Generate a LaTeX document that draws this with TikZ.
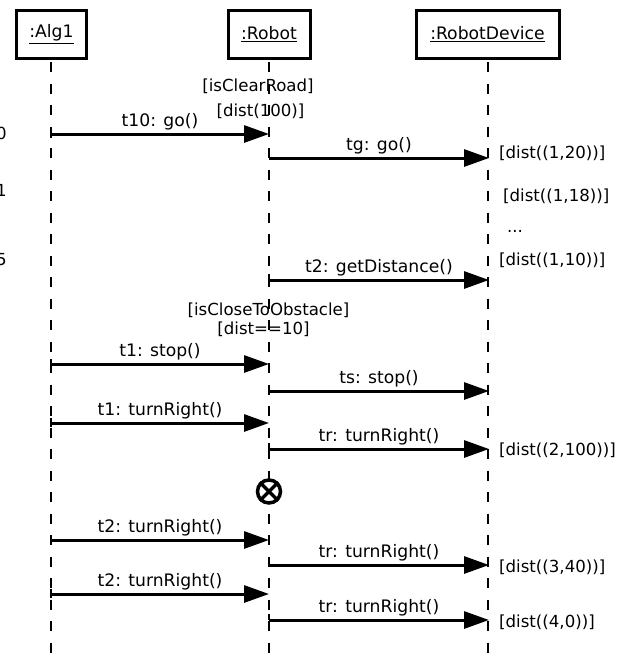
\documentclass[tikz,border=0pt]{standalone}
\usepackage{fontspec}
\setmainfont{DejaVu Sans}
\usetikzlibrary{arrows.meta}
\begin{document}
\begin{tikzpicture}[x=1pt,y=-1pt,
  head/.style={draw,line width=3pt,minimum height=48pt,inner sep=0pt,font=\fontsize{17.2}{19}\selectfont},
  life/.style={line width=1.2pt,dash pattern=on 10pt off 11.5pt},
  msg/.style={line width=3pt,-{Triangle[length=25pt,width=17pt]}},
  lbl/.style={font=\fontsize{17.2}{19}\selectfont,inner sep=0pt},
  note/.style={font=\fontsize{16.6}{18}\selectfont,inner sep=0pt},
  tick/.style={line width=1.2pt}]
\useasboundingbox (0,0) rectangle (623,662);
% heads
\node[head,minimum width=70pt] (alg) at (51.5,34) {\underline{:Alg1}};
\node[head,minimum width=82pt] (rob) at (269,34) {\underline{:Robot}};
\node[head,minimum width=143pt] (dev) at (487.5,34) {\underline{:RobotDevice}};
% lifelines
\coordinate (algT) at (51,62);  \coordinate (algB) at (51,662);
\coordinate (robT) at (269,62); \coordinate (robB) at (269,662);
\coordinate (devT) at (488,62); \coordinate (devB) at (488,662);
\draw[life] (algT) -- (algB);
\draw[life] (robT) -- (robB);
\draw[life] (devT) -- (devB);
% left clipped numbers (cut by the left edge, as in the reference)
\node[note,anchor=east] (n0) at (7,133) {0};
\node[note,anchor=east] (n1) at (7,190) {1};
\node[note,anchor=east] (n5) at (7,260) {5};
% guards
\node[note] (g1) at (258,86) {[isClearRoad]};
\node[note] (g2) at (260.5,111) {[dist(100)]};
\node[note] (g3) at (268.5,310) {[isCloseToObstacle]};
\node[note] (g4) at (263.5,329) {[dist==10]};
% message coordinates
\foreach \n/\y in {a1/134,a2/364,a3/423,a4/540,a5/594}{
  \coordinate (\n s) at (51,\y); \coordinate (\n e) at (269,\y);
  \draw[tick] (51,\y-5) -- (51,\y+4);}
\foreach \n/\y in {b1/158,b2/280,b3/391,b4/449,b5/565,b6/620}{
  \coordinate (\n s) at (269,\y); \coordinate (\n e) at (489,\y);
  \draw[tick] (269,\y-6) -- (269,\y);}
\draw[msg] (a1s) -- node[lbl,above=2pt] {t10: go()} (a1e);
\draw[msg] (b1s) -- node[lbl,above=2pt] {tg: go()} (b1e);
\draw[msg] (b2s) -- node[lbl,above=2pt] {t2: getDistance()} (b2e);
\draw[msg] (a2s) -- node[lbl,above=2pt] {t1: stop()} (a2e);
\draw[msg] (b3s) -- node[lbl,above=2pt] {ts: stop()} (b3e);
\draw[msg] (a3s) -- node[lbl,above=2pt] {t1: turnRight()} (a3e);
\draw[msg] (b4s) -- node[lbl,above=2pt] {tr: turnRight()} (b4e);
\draw[msg] (a4s) -- node[lbl,above=2pt] {t2: turnRight()} (a4e);
\draw[msg] (b5s) -- node[lbl,above=2pt] {tr: turnRight()} (b5e);
\draw[msg] (a5s) -- node[lbl,above=2pt] {t2: turnRight()} (a5e);
\draw[msg] (b6s) -- node[lbl,above=2pt] {tr: turnRight()} (b6e);
% notes right
\node[note,anchor=west] (d1) at (499,153) {[dist((1,20))]};
\node[note,anchor=west] (d2) at (503,196) {[dist((1,18))]};
\node[note] (d3) at (515,231) {...};
\node[note,anchor=west] (d4) at (499,260) {[dist((1,10))]};
\node[note,anchor=west] (d5) at (499,450) {[dist((2,100))]};
\node[note,anchor=west] (d6) at (499,567) {[dist((3,40))]};
\node[note,anchor=west] (d7) at (499,622) {[dist((4,0))]};
% crossed circle on the Robot lifeline
\node[draw,circle,line width=3.5pt,minimum size=23pt,inner sep=0pt,fill=white] (x) at (269,491.5) {};
\draw[line width=3.3pt] (x.north west) -- (x.south east);
\draw[line width=3.3pt] (x.north east) -- (x.south west);
\end{tikzpicture}
\end{document}
